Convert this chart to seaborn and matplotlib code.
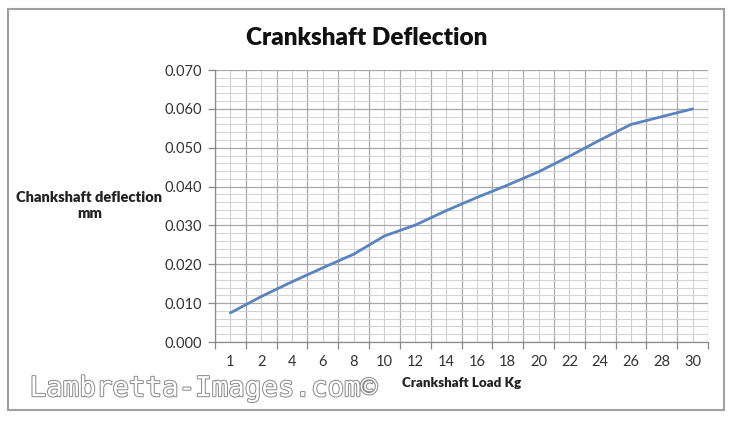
import numpy as np
import pandas as pd
import seaborn as sns
import matplotlib.pyplot as plt
from matplotlib.patches import Rectangle
import matplotlib.patheffects as pe
from matplotlib.ticker import FormatStrFormatter, MultipleLocator

sns.set_theme(style="white")
plt.rcParams['font.family'] = ['Lato', 'DejaVu Sans']

# data
load_labels = ['1', '2', '4', '6', '8', '10', '12', '14', '16', '18', '20', '22', '24', '26', '28', '30']
deflection = [0.0075, 0.0117, 0.0155, 0.0191, 0.0226, 0.0273, 0.0301, 0.0338,
              0.0372, 0.0404, 0.0438, 0.0478, 0.0520, 0.0560, 0.0580, 0.0600]

df = pd.DataFrame({'load': load_labels, 'deflection': deflection})

fig = plt.figure(figsize=(7.4, 4.21), dpi=100)
ax = fig.add_axes([0.2905, 0.1876, 0.6663, 0.6461])

pos = np.arange(len(load_labels))
sns.lineplot(x=pos, y=df['deflection'], ax=ax, color='#5a83bf', lw=2.0)

ax.set_xlim(-0.5, len(load_labels) - 0.5)
ax.set_ylim(0, 0.070)

# ticks / grid
ax.set_xticks(pos)
ax.set_xticklabels(load_labels)
ax.set_xticks(np.arange(-0.5, len(load_labels), 1.0), minor=True)
ax.yaxis.set_major_locator(MultipleLocator(0.01))
ax.yaxis.set_minor_locator(MultipleLocator(0.002))
ax.yaxis.set_major_formatter(FormatStrFormatter('%.3f'))

ax.grid(True, which='major', axis='y', color='#a8a8a8', lw=0.9)
ax.grid(True, which='minor', axis='y', color='#d4d4d4', lw=0.8)
ax.grid(True, which='major', axis='x', color='#d0d0d0', lw=0.8)
ax.grid(True, which='minor', axis='x', color='#a8a8a8', lw=0.9)
ax.set_axisbelow(True)

ax.tick_params(axis='x', which='major', length=0, pad=9, labelsize=10.5, colors='#333333')
ax.tick_params(axis='x', which='minor', length=5, width=0.9, color='#888888', bottom=True)
ax.tick_params(axis='y', which='major', length=5, width=0.9, color='#888888', left=True,
               labelsize=10.5, colors='#333333', pad=4)
ax.tick_params(axis='y', which='minor', length=0)

for side in ['top', 'right']:
    ax.spines[side].set_visible(False)
for side in ['left', 'bottom']:
    ax.spines[side].set_color('#888888')
    ax.spines[side].set_linewidth(0.9)

ax.set_xlabel('')
ax.set_ylabel('')

# titles and labels
fig.text(0.496, 0.91, 'Crankshaft Deflection', ha='center', va='center',
         fontsize=17.5, fontweight='heavy', color='#111111')
fig.text(0.121, 0.512, 'Chankshaft deflection\nmm', ha='center', va='center',
         fontsize=10.5, fontweight='heavy', color='#222222', linespacing=1.35)
fig.text(0.624, 0.09, 'Crankshaft Load Kg', ha='center', va='center',
         fontsize=9.6, fontweight='heavy', color='#222222')

# watermark
fig.text(0.04, 0.078, 'Lambretta-Images.com\u00a9', ha='left', va='center',
         fontsize=19.8, color='white', family='DejaVu Sans Mono',
         path_effects=[pe.withStroke(linewidth=1.5, foreground='#8f8f8f')])

# outer frame
fig.patches.append(Rectangle((0.011, 0.027), 0.968, 0.952, transform=fig.transFigure,
                             fill=False, edgecolor='#a0a0a0', lw=1.5))

fig.savefig('out.png', dpi=100)
